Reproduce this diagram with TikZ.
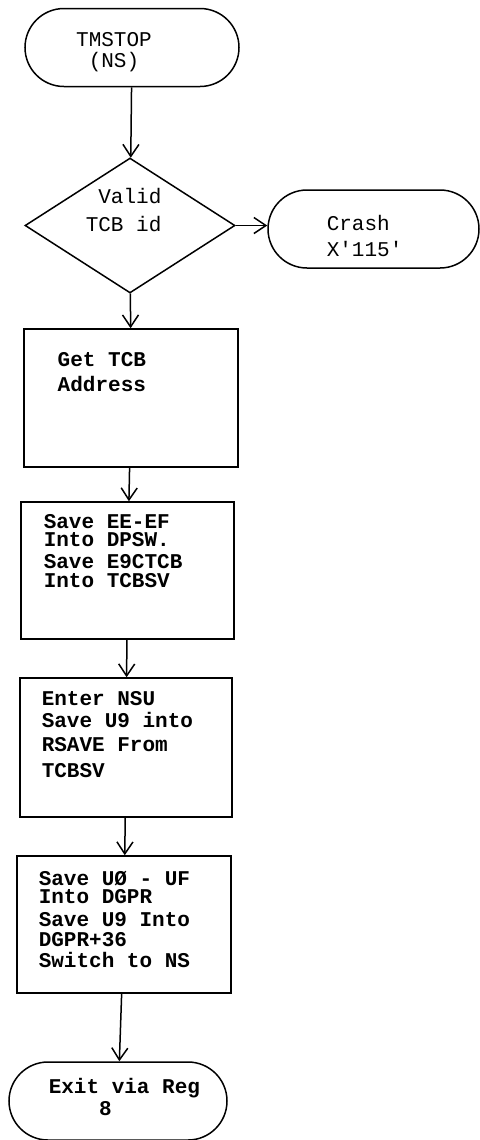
\documentclass[tikz,border=0pt]{standalone}
\usepackage{fontspec}
\setmonofont{Liberation Mono}
\usetikzlibrary{shapes.geometric, shapes.misc, arrows.meta}

\begin{document}
\begin{tikzpicture}[x=0.5pt, y=-0.5pt, line width=0.75pt, >={Straight Barb[length=6pt, width=8pt]},
    every node/.style={font=\ttfamily\fontsize{10.5}{10.5}\selectfont},
    term/.style={draw, rounded rectangle, minimum height=39pt, inner sep=0pt},
    decide/.style={draw, diamond, minimum width=105pt, minimum height=67.5pt, inner sep=0pt},
    proc/.style={draw, rectangle, minimum width=107pt, minimum height=69pt, inner sep=0pt},
    txt/.style={anchor=base west, align=left, inner sep=0pt},
    heavy/.style={font=\ttfamily\bfseries\fontsize{10.5}{10.5}\selectfont}]
    \useasboundingbox (0,0) rectangle (479,1140);
    % shapes
    \node[term, minimum width=107pt] (start) at (132,47.5) {};
    \node[decide] (valid) at (130,225.5) {};
    \node[term, minimum width=105.5pt] (crash) at (373.5,229) {};
    \node[proc] (gettcb) at (131,398) {};
    \node[proc, minimum width=106.5pt, minimum height=68.5pt] (savee) at (127.5,570.5) {};
    \node[proc, minimum width=106pt, minimum height=69.5pt] (enternsu) at (126,747.5) {};
    \node[proc, minimum height=68.5pt] (saveu) at (124,924.5) {};
    \node[term, minimum width=109pt] (exit) at (118,1101) {};
    % texts (anchored at the last line)
    \node[anchor=base, align=center, inner sep=0pt] (starttxt) at (114,67) {TMSTOP\\[-0.5pt](NS)};
    \node[txt] (validtxt) at (85,231) {\phantom{T}Valid\\[3.5pt]TCB id};
    \node[txt] (crashtxt) at (326,256) {Crash\\[2.5pt]X'115'};
    \node[txt, heavy] (gettcbtxt) at (57,391) {Get TCB\\[2pt]Address};
    \node[txt, heavy] (saveetxt) at (43,587) {Save EE-EF\\[-1.5pt]Into DPSW.\\[0.5pt]Save E9CTCB\\[-1pt]Into TCBSV};
    \node[txt, heavy] (enternsutxt) at (41,777) {Enter NSU\\[0.5pt]Save U9 into\\[1.5pt]RSAVE From\\[2.5pt]TCBSV};
    \node[txt, heavy] (saveutxt) at (38,967) {Save UØ - UF\\[-1.5pt]Into DGPR\\[1pt]Save U9 Into\\[-0.5pt]DGPR+36\\Switch to NS};
    \node[txt, heavy] (exittxt) at (48,1115) {Exit via Reg\\[0.5pt]\phantom{Exit}8};
    % connectors
    \draw[->] (start) -- (valid);
    \draw[->] (valid.east) -- (valid.east -| crash.west);
    \draw[->] (valid) -- (gettcb);
    \draw[->] (gettcb) -- (savee);
    \draw[->] (savee) -- (enternsu);
    \draw[->] (enternsu) -- (saveu);
    \draw[->] (saveu) -- (exit);
\end{tikzpicture}
\end{document}
